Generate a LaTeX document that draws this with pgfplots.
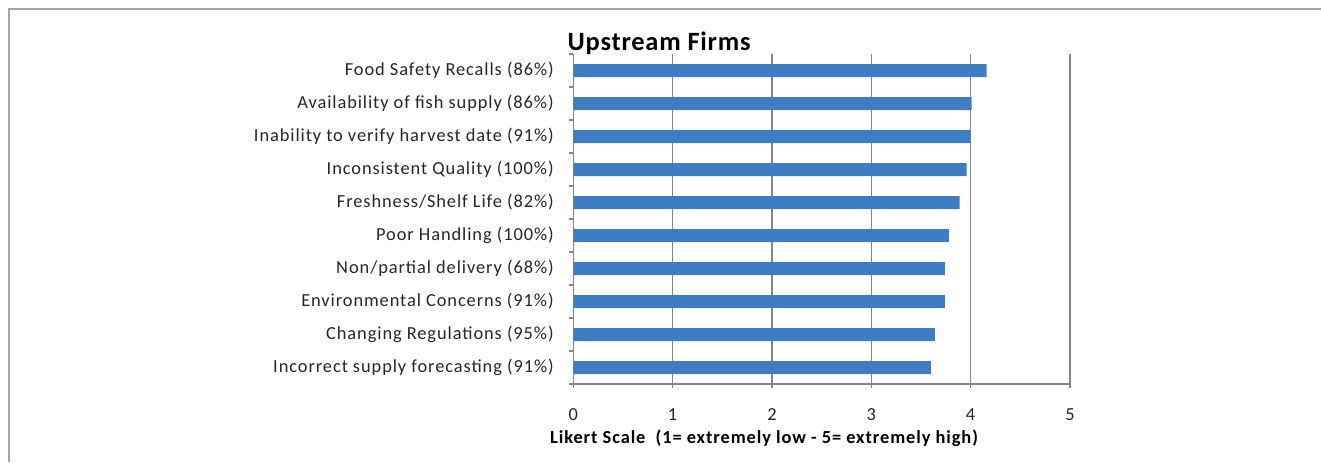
\documentclass[border=0pt]{standalone}
\usepackage{fontspec}
\setmainfont{Carlito}
\newfontfamily\spaced[LetterSpace=5]{Carlito}
\newfontfamily\spacedb[LetterSpace=3]{Carlito}
\usepackage{pgfplots}
\pgfplotsset{compat=1.18}
\definecolor{barblue}{RGB}{62,125,196}
\definecolor{gridgray}{RGB}{134,134,134}
\definecolor{framegray}{RGB}{165,165,165}

\begin{document}
\begin{tikzpicture}
% 1 px of the reference = 0.5pt; axis origin at px (573.3, 384)
\useasboundingbox (-286.65pt,-39pt) rectangle (373.85pt,192pt);
\draw[framegray, line width=1pt] (-282.15pt,-39pt) -- (-282.15pt,187.5pt) -- (373.85pt,187.5pt);
\begin{axis}[
  at={(0pt,0pt)}, anchor=south west,
  scale only axis, width=248.35pt, height=165pt,
  xbar, bar width=6.5pt,
  xmin=0, xmax=5, ymin=0.5, ymax=10.5,
  xtick={0,1,2,3,4,5},
  ytick={1,...,10},
  minor ytick={0.5,1.5,...,10.5},
  yticklabels={
    Incorrect supply forecasting (91\%),
    Changing Regulations (95\%),
    Environmental Concerns (91\%),
    Non/partial delivery (68\%),
    Poor Handling (100\%),
    Freshness/Shelf Life (82\%),
    Inconsistent Quality (100\%),
    Inability to verify harvest date (91\%),
    Availability of fish supply (86\%),
    Food Safety Recalls (86\%)},
  axis lines=left, axis line style={-, gridgray, line width=0.6pt},
  xmajorgrids, major grid style={gridgray, line width=0.6pt},
  tick align=outside, major tick length=2pt, minor tick length=2pt,
  major y tick style={draw=none},
  minor y tick style={gridgray, line width=0.6pt},
  major x tick style={gridgray, line width=0.6pt},
  /pgf/number format/assume math mode=true,
  tick label style={font=\spaced\fontsize{9.2}{10}\selectfont, text=black!85},
  yticklabel style={anchor=east, inner sep=0pt, xshift=-7.6pt},
  xticklabel style={anchor=base, inner sep=0pt, yshift=-16.35pt},
  clip=false,
]
\addplot[fill=barblue, draw=none] coordinates {
  (3.60,1) (3.64,2) (3.74,3) (3.74,4) (3.78,5)
  (3.89,6) (3.96,7) (4.00,8) (4.01,9) (4.16,10)};
\end{axis}
\node[anchor=base west, inner sep=0pt, font=\spacedb\fontsize{13.2}{15}\selectfont\bfseries] at (-3pt,166.65pt) {Upstream Firms};
\node[anchor=base, inner sep=0pt, font=\spaced\fontsize{9.2}{10}\selectfont\bfseries] at (95.4pt,-29.5pt) {Likert Scale\ \ (1= extremely low - 5= extremely high)};
\end{tikzpicture}
\end{document}
